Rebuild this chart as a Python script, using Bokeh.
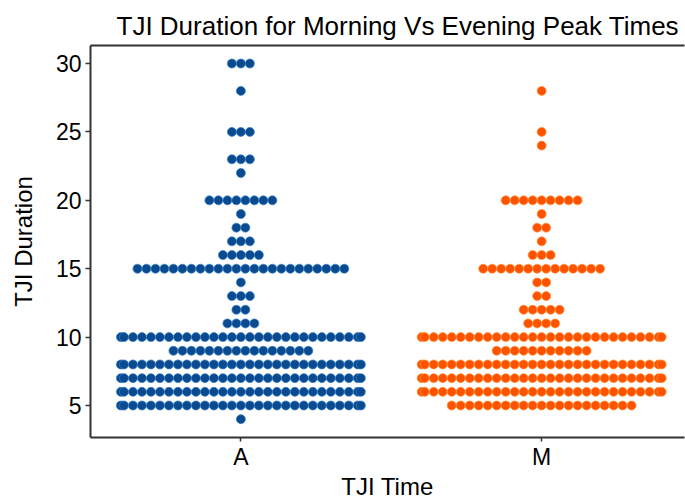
import numpy as np
from bokeh.plotting import figure
from bokeh.models import ColumnDataSource, LinearAxis, FixedTicker, Range1d, Title
from bokeh.embed import file_html
from bokeh.resources import INLINE

# ---- data ----
categories = ["A", "M"]

a_values = [30, 28, 25, 23, 22, 20, 19, 18, 17, 16, 15, 14, 13, 12, 11, 10, 9, 8, 7, 6, 5, 4]
a_counts = [3, 1, 3, 3, 1, 8, 1, 2, 3, 5, 24, 1, 3, 2, 4, 29, 16, 29, 29, 29, 29, 1]

m_values = [28, 25, 24, 20, 19, 18, 17, 16, 15, 14, 13, 12, 11, 10, 9, 8, 7, 6, 5]
m_counts = [1, 1, 1, 9, 1, 2, 1, 3, 14, 2, 2, 5, 4, 29, 11, 29, 29, 29, 21]

y_ticks = [5, 10, 15, 20, 25, 30]

# ---- style ----
FONT = "Liberation Sans"
DOT_STEP = 0.0299      # horizontal spacing between stacked dots (category units)
HALF_WIDTH = 0.399     # dots are kept inside this half width of a category slot
fills = ["#0b4a8e", "#ff5200"]
edges = ["#2f7fcc", "#ff9433"]


def stack(center, values, counts):
    xs, ys = [], []
    for v, n in zip(values, counts):
        offs = (np.arange(n) - (n - 1) / 2.0) * DOT_STEP
        offs = np.clip(offs, -HALF_WIDTH, HALF_WIDTH)
        xs.extend(center + offs)
        ys.extend([v] * n)
    return xs, ys


p = figure(width=685, height=503, output_backend="svg", toolbar_location=None,
           x_range=Range1d(0.5, 2.475), y_range=Range1d(2.66, 31.32),
           min_border_left=90, min_border_right=1, min_border_top=45,
           min_border_bottom=66, x_axis_location=None, y_axis_location=None)

p.background_fill_color = "white"
p.border_fill_color = "white"
p.outline_line_color = None
p.xgrid.visible = False
p.ygrid.visible = False

for i, (vals, cnts) in enumerate([(a_values, a_counts), (m_values, m_counts)]):
    xs, ys = stack(i + 1, vals, cnts)
    src = ColumnDataSource(dict(x=xs, y=ys))
    p.scatter("x", "y", source=src, size=9, fill_color=fills[i],
              line_color=edges[i], line_width=0.7)

# axes
yax = LinearAxis(ticker=FixedTicker(ticks=y_ticks), axis_label="TJI Duration")
xax = LinearAxis(ticker=FixedTicker(ticks=[1, 2]), axis_label="TJI Time",
                 major_label_overrides={1: categories[0], 2: categories[1]})
top = LinearAxis(ticker=FixedTicker(ticks=[]), major_label_text_font_size="0px",
                 major_tick_out=0, major_tick_in=0, minor_tick_out=0, minor_tick_in=0)

for ax in (yax, xax):
    ax.axis_line_color = "#333333"
    ax.axis_line_width = 2
    ax.major_tick_line_color = "#333333"
    ax.major_tick_line_width = 1.5
    ax.major_tick_out = 5
    ax.major_tick_in = 0
    ax.minor_tick_line_color = None
    ax.major_label_text_font = FONT
    ax.major_label_text_font_size = "23px"
    ax.major_label_text_color = "black"
    ax.axis_label_text_font = FONT
    ax.axis_label_text_font_size = "24px"
    ax.axis_label_text_font_style = "normal"
    ax.axis_label_text_color = "black"

yax.major_label_standoff = 4
yax.axis_label_standoff = 16
xax.major_tick_out = 4
xax.major_label_standoff = 2
xax.axis_label_standoff = 0

top.axis_line_color = "#333333"
top.axis_line_width = 2

p.add_layout(yax, "left")
p.add_layout(xax, "below")
p.add_layout(top, "above")

p.title = Title(text="TJI Duration for Morning Vs Evening Peak Times", align="left",
                offset=26, text_font=FONT, text_font_size="26px",
                text_font_style="normal", text_color="black")

open("out.html", "w").write(file_html(p, INLINE))
